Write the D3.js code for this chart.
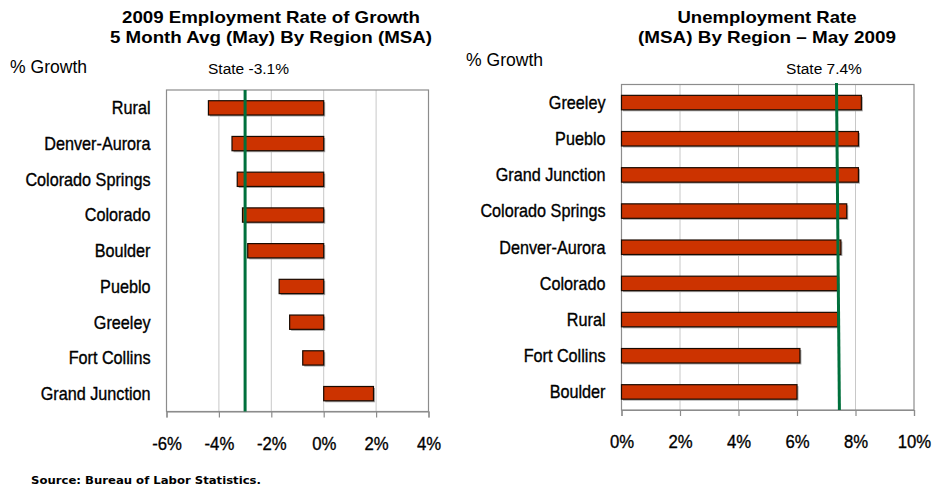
<!DOCTYPE html>
<html>
<head>
<meta charset="utf-8">
<script src="https://cdn.jsdelivr.net/npm/d3@7"></script>
<style>
  body { margin: 0; background: #fff; }
  svg text { fill: #000; }
  .narrow { font-family: "Liberation Sans", Arial, sans-serif; }
  .heavy { stroke: #000; stroke-width: 0.35px; }
  .title { font-family: "Liberation Sans", Arial, sans-serif; font-weight: bold; font-size: 16.5px; }
  .source { font-family: "DejaVu Sans", Verdana, sans-serif; font-weight: bold; font-size: 10.5px; }
</style>
</head>
<body>
<svg id="chart" width="934" height="487"></svg>
<script>
// left panel: 5 month avg employment growth, %
const growthRegions = ["Rural", "Denver-Aurora", "Colorado Springs", "Colorado", "Boulder", "Pueblo", "Greeley", "Fort Collins", "Grand Junction"];
const growthValues = [-4.4, -3.5, -3.3, -3.1, -2.9, -1.7, -1.3, -0.8, 1.9];
const growthTicks = [-6, -4, -2, 0, 2, 4];
const growthState = -3.0;

// right panel: unemployment rate May 2009, %
const unempRegions = ["Greeley", "Pueblo", "Grand Junction", "Colorado Springs", "Denver-Aurora", "Colorado", "Rural", "Fort Collins", "Boulder"];
const unempValues = [8.2, 8.1, 8.1, 7.7, 7.5, 7.4, 7.4, 6.1, 6.0];
const unempTicks = [0, 2, 4, 6, 8, 10];
const unempState = [7.35, 7.45]; // line is drawn slightly tilted in the original

const svg = d3.select("#chart");

// no condensed font installed, so squeeze regular Liberation Sans
const squeeze = 0.9;

function panel(opts) {
  const {left, right, top, bottom, regions, values, ticks, state, title, titleWidths, stateLabel, stateX, ylabelX, ylabelY, titleX} = opts;

  const x = d3.scaleLinear().domain(d3.extent(ticks)).range([left, right]);
  const y = d3.scaleBand().domain(regions).range([top, bottom]).paddingInner(0.6).paddingOuter(0.3);

  const g = svg.append("g");

  // gridlines
  g.append("g")
    .selectAll("line")
    .data(ticks.slice(1, -1))
    .join("line")
    .attr("x1", d => x(d)).attr("x2", d => x(d))
    .attr("y1", top).attr("y2", bottom)
    .attr("stroke", "#c8c8c8").attr("stroke-width", 1);

  // plot frame
  g.append("rect")
    .attr("x", left).attr("y", top)
    .attr("width", right - left).attr("height", bottom - top)
    .attr("fill", "none").attr("stroke", "#8c8c8c").attr("stroke-width", 1.2);

  // x axis
  const axis = g.append("g")
    .attr("class", "narrow")
    .attr("transform", `translate(0,${bottom})`)
    .call(d3.axisBottom(x).tickValues(ticks).tickSize(6).tickPadding(19).tickFormat(d => d + "%"));
  axis.select(".domain").attr("stroke", "#8c8c8c").attr("stroke-width", 1.2);
  axis.selectAll(".tick line").attr("stroke", "#8c8c8c").attr("stroke-width", 1.2);
  axis.selectAll(".tick text")
    .attr("class", "heavy")
    .attr("font-size", 19)
    .attr("fill", "#000")
    .attr("transform", "scale(0.88,1)");

  // bars: shadow then bar
  const bars = g.append("g");
  bars.selectAll("rect.shadow")
    .data(regions)
    .join("rect")
    .attr("class", "shadow")
    .attr("x", (d, i) => Math.min(x(values[i]), x(0)) + 1.5)
    .attr("y", d => y(d) + 1.5)
    .attr("width", (d, i) => Math.abs(x(values[i]) - x(0)))
    .attr("height", y.bandwidth())
    .attr("fill", "#a8a8a8");
  bars.selectAll("rect.bar")
    .data(regions)
    .join("rect")
    .attr("class", "bar")
    .attr("x", (d, i) => Math.min(x(values[i]), x(0)))
    .attr("y", d => y(d))
    .attr("width", (d, i) => Math.abs(x(values[i]) - x(0)))
    .attr("height", y.bandwidth())
    .attr("fill", "#cc3300")
    .attr("stroke", "#1a0a00").attr("stroke-width", 1.2);

  // category labels
  g.append("g")
    .attr("class", "narrow heavy")
    .selectAll("text")
    .data(regions)
    .join("text")
    .attr("transform", d => `translate(${left - 16},${y(d) + y.bandwidth() / 2}) scale(${squeeze},1)`)
    .attr("dy", "0.35em")
    .attr("text-anchor", "end")
    .attr("font-size", 18)
    .text(d => d);

  // state reference line
  g.append("line")
    .attr("x1", x(state[0])).attr("x2", x(state[1]))
    .attr("y1", opts.stateTop).attr("y2", bottom)
    .attr("stroke", "#00703c").attr("stroke-width", 3);

  g.append("text")
    .attr("class", "narrow")
    .attr("x", stateX).attr("y", 74)
    .attr("text-anchor", "middle")
    .attr("font-size", 15.5)
    .text(stateLabel);

  g.append("text")
    .attr("class", "narrow")
    .attr("transform", `translate(${ylabelX},${ylabelY}) scale(0.95,1)`)
    .attr("font-size", 18.5)
    .text("% Growth");

  const t = g.append("text").attr("class", "title").attr("text-anchor", "middle");
  t.selectAll("tspan")
    .data(title)
    .join("tspan")
    .attr("x", titleX)
    .attr("y", (d, i) => 23 + i * 20)
    .attr("textLength", (d, i) => titleWidths[i])
    .attr("lengthAdjust", "spacingAndGlyphs")
    .text(d => d);
}

panel({
  left: 166.5, right: 428.5, top: 90, bottom: 411.5,
  regions: growthRegions, values: growthValues, ticks: growthTicks,
  state: [growthState, growthState], stateTop: 90,
  title: ["2009 Employment Rate of Growth", "5 Month Avg (May) By Region (MSA)"],
  titleWidths: [298, 322],
  titleX: 271,
  stateLabel: "State -3.1%", stateX: 248.5,
  ylabelX: 10, ylabelY: 73
});

panel({
  left: 621.5, right: 914, top: 84.5, bottom: 410,
  regions: unempRegions, values: unempValues, ticks: unempTicks,
  state: unempState, stateTop: 83,
  title: ["Unemployment Rate", "(MSA) By Region \u2013 May 2009"],
  titleWidths: [179, 258],
  titleX: 767,
  stateLabel: "State 7.4%", stateX: 824,
  ylabelX: 466, ylabelY: 66
});

svg.append("text")
  .attr("class", "source")
  .attr("x", 31).attr("y", 484)
  .attr("textLength", 230)
  .attr("lengthAdjust", "spacingAndGlyphs")
  .text("Source: Bureau of Labor Statistics.");
</script>
</body>
</html>
